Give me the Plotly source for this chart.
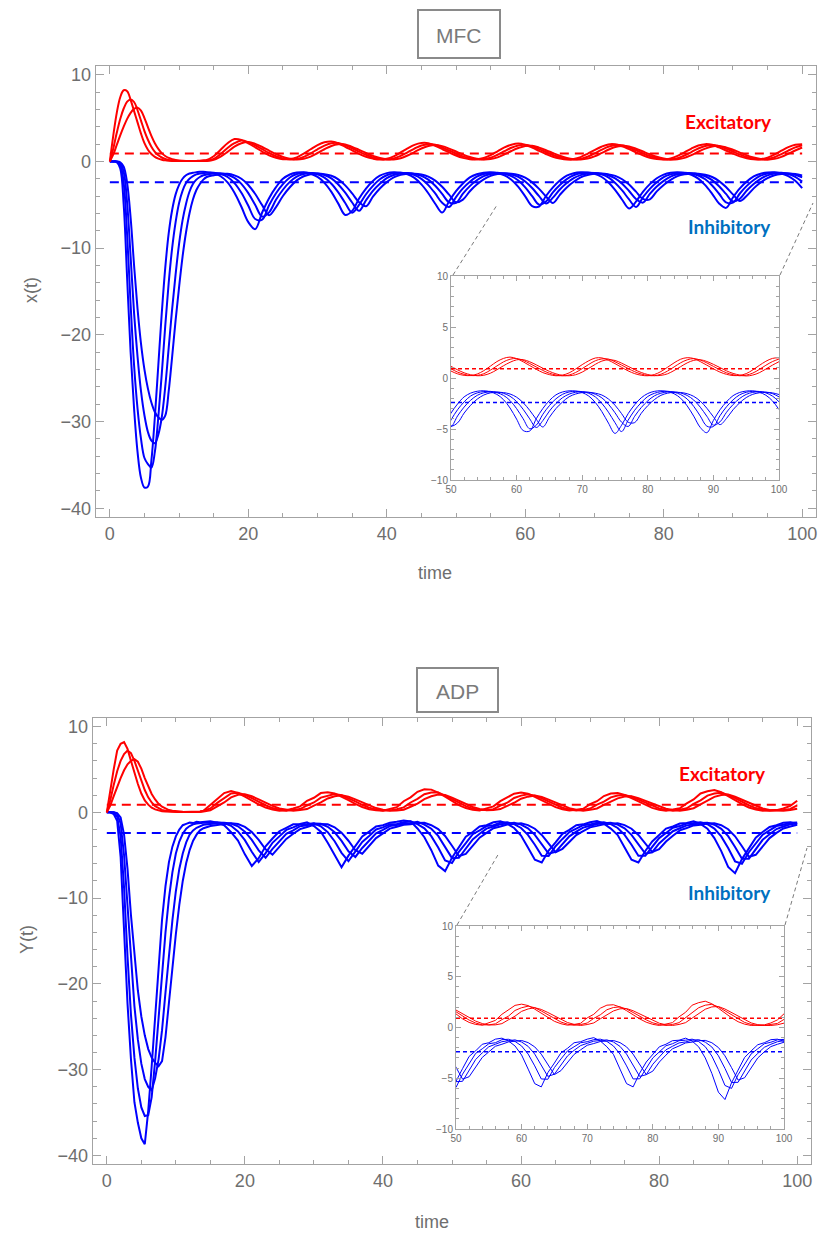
import plotly.graph_objects as go

# ---------------- time grid (dense during the transient) ----------------
T_EARLY = [i * 0.5 for i in range(29)]          # 0 .. 14 step 0.5
T_LATE = list(range(15, 101))                   # 15 .. 100
T = T_EARLY + T_LATE

X_TICKS_MAIN = [0, 20, 40, 60, 80, 100]
Y_TICKS_MAIN = [-40, -30, -20, -10, 0, 10]
E_LEVEL = 0.9      # excitatory fixed point (dashed red)
I_LEVEL = -2.4     # inhibitory fixed point (dashed blue)

# ---------------- MFC panel ----------------
MFC_R1_early = [0, 3.0, 5.6, 7.4, 8.2, 8.1, 7.1, 5.8, 4.5, 3.2, 2.1, 1.35, 0.85, 0.52, 0.32, 0.2, 0.12, 0.08, 0.06, 0.05,
                0.04, 0.04, 0.04, 0.04, 0.04, 0.06, 0.08, 0.12, 0.18]
MFC_R1_late = [0.60, 1.35, 2.10, 2.58, 2.48, 2.08, 1.62, 1.14, 0.70, 0.42,
               0.25, 0.27, 0.47, 0.89, 1.40, 1.88, 2.21, 2.29, 2.07, 1.69,
               1.27, 0.86, 0.53, 0.32, 0.21, 0.31, 0.59, 1.03, 1.50, 1.91,
               2.12, 2.10, 1.80, 1.43, 1.04, 0.68, 0.41, 0.26, 0.24, 0.39,
               0.72, 1.16, 1.61, 1.92, 2.05, 1.90, 1.59, 1.22, 0.85, 0.53,
               0.33, 0.22, 0.28, 0.50, 0.88, 1.31, 1.69, 1.96, 1.97, 1.74,
               1.41, 1.05, 0.70, 0.43, 0.27, 0.22, 0.34, 0.63, 1.05, 1.48,
               1.84, 1.99, 1.91, 1.61, 1.26, 0.90, 0.58, 0.36, 0.24, 0.26,
               0.43, 0.79, 1.23, 1.64, 1.92, 1.99]
MFC_R2_early = [0, 1.5, 3.3, 4.9, 6.1, 6.9, 7.15, 6.85, 5.9, 4.7, 3.5, 2.5, 1.7, 1.1, 0.7, 0.45, 0.28, 0.17, 0.11, 0.08,
                0.06, 0.05, 0.04, 0.04, 0.04, 0.04, 0.04, 0.06, 0.08]
MFC_R2_late = [0.30, 0.85, 1.55, 2.10, 2.40, 2.22, 1.85, 1.41, 0.97, 0.60,
               0.35, 0.22, 0.29, 0.52, 0.93, 1.40, 1.82, 2.10, 2.12, 1.87,
               1.51, 1.12, 0.75, 0.45, 0.28, 0.22, 0.34, 0.63, 1.05, 1.48,
               1.84, 1.99, 1.91, 1.61, 1.26, 0.90, 0.58, 0.36, 0.24, 0.26,
               0.42, 0.77, 1.18, 1.58, 1.84, 1.91, 1.73, 1.42, 1.08, 0.74,
               0.47, 0.29, 0.21, 0.29, 0.54, 0.92, 1.33, 1.69, 1.87, 1.86,
               1.59, 1.27, 0.93, 0.62, 0.39, 0.25, 0.23, 0.37, 0.68, 1.08,
               1.49, 1.78, 1.90, 1.76, 1.48, 1.14, 0.80, 0.51, 0.32, 0.22,
               0.28, 0.48, 0.84, 1.25, 1.61, 1.86]
MFC_R3_early = [0, 0.8, 1.9, 3.0, 4.0, 4.9, 5.6, 6.05, 6.2, 5.85, 5.0, 3.95, 2.95, 2.1, 1.45, 0.95, 0.62, 0.4, 0.26, 0.17,
                0.11, 0.08, 0.06, 0.05, 0.04, 0.04, 0.04, 0.04, 0.05]
MFC_R3_late = [0.18, 0.55, 1.10, 1.70, 2.10, 2.24, 2.02, 1.66, 1.25, 0.85,
               0.52, 0.31, 0.21, 0.30, 0.56, 0.97, 1.40, 1.78, 1.97, 1.96,
               1.68, 1.33, 0.97, 0.64, 0.40, 0.25, 0.23, 0.37, 0.68, 1.08,
               1.49, 1.78, 1.90, 1.76, 1.48, 1.14, 0.80, 0.51, 0.32, 0.22,
               0.27, 0.47, 0.81, 1.20, 1.54, 1.78, 1.80, 1.59, 1.29, 0.96,
               0.65, 0.41, 0.26, 0.22, 0.32, 0.58, 0.95, 1.34, 1.66, 1.79,
               1.72, 1.46, 1.14, 0.82, 0.54, 0.34, 0.23, 0.26, 0.41, 0.73,
               1.11, 1.48, 1.73, 1.79, 1.62, 1.34, 1.02, 0.70, 0.45, 0.29,
               0.20, 0.29, 0.52, 0.88, 1.26, 1.60]

MFC_B1_early = [0, 0.0, -0.1, -0.8, -5.0, -13.5, -22.0, -28.5, -33.5, -36.5, -37.6, -37.5, -34.5, -29.5, -23.5, -17.5,
                -12.3, -8.3, -5.6, -3.8, -2.7, -2.0, -1.6, -1.4, -1.3, -1.25, -1.2, -1.2, -1.25]
MFC_B1_late = [-1.38, -1.71, -2.42, -3.61, -5.23, -7.00, -7.81, -5.89, -4.24, -2.97,
               -2.01, -1.51, -1.29, -1.26, -1.43, -1.79, -2.47, -3.52, -4.87, -6.17,
               -5.70, -4.28, -3.13, -2.25, -1.65, -1.35, -1.25, -1.30, -1.48, -1.90,
               -2.65, -3.67, -4.88, -5.90, -4.60, -3.44, -2.55, -1.85, -1.48, -1.30,
               -1.25, -1.37, -1.61, -2.12, -2.94, -4.03, -5.15, -5.20, -3.99, -2.99,
               -2.21, -1.65, -1.37, -1.26, -1.28, -1.43, -1.77, -2.40, -3.30, -4.42,
               -5.43, -4.63, -3.50, -2.62, -1.94, -1.52, -1.31, -1.25, -1.33, -1.54,
               -1.98, -2.73, -3.74, -4.85, -5.36, -4.16, -3.12, -2.33, -1.73, -1.42,
               -1.28, -1.26, -1.40, -1.69, -2.24, -3.09]
MFC_B2_early = [0, 0.0, -0.05, -0.4, -2.5, -8.5, -16.5, -23.5, -28.5, -32.0, -34.2, -34.9, -35.3, -33.5, -29.5, -24.5,
                -19.0, -14.0, -10.0, -7.0, -4.8, -3.4, -2.5, -2.0, -1.7, -1.5, -1.4, -1.35, -1.3]
MFC_B2_late = [-1.30, -1.46, -1.80, -2.50, -3.62, -5.11, -6.64, -6.72, -5.06, -3.68,
               -2.62, -1.85, -1.46, -1.31, -1.33, -1.50, -1.88, -2.57, -3.57, -4.79,
               -5.91, -5.02, -3.79, -2.82, -2.06, -1.60, -1.37, -1.30, -1.38, -1.58,
               -2.01, -2.73, -3.70, -4.78, -5.26, -4.11, -3.11, -2.34, -1.76, -1.46,
               -1.33, -1.31, -1.44, -1.70, -2.21, -3.00, -4.00, -4.98, -4.63, -3.56,
               -2.71, -2.04, -1.60, -1.37, -1.30, -1.34, -1.50, -1.85, -2.49, -3.35,
               -4.38, -5.25, -4.14, -3.16, -2.41, -1.81, -1.50, -1.34, -1.30, -1.40,
               -1.62, -2.06, -2.78, -3.73, -4.72, -4.76, -3.70, -2.82, -2.14, -1.65,
               -1.40, -1.31, -1.32, -1.46, -1.77, -2.33]
MFC_B3_early = [0, 0.0, 0.0, -0.2, -1.2, -4.8, -11.0, -17.5, -22.5, -26.5, -29.3, -31.2, -32.2, -32.5, -31.5, -29.5,
                -26.0, -21.5, -17.0, -13.0, -9.5, -6.8, -4.9, -3.5, -2.6, -2.1, -1.8, -1.6, -1.5]
MFC_B3_late = [-1.40, -1.36, -1.54, -1.90, -2.59, -3.66, -5.03, -6.36, -5.88, -4.43,
               -3.27, -2.36, -1.75, -1.45, -1.35, -1.39, -1.57, -1.96, -2.66, -3.61,
               -4.74, -5.70, -4.48, -3.39, -2.57, -1.92, -1.57, -1.39, -1.35, -1.45,
               -1.67, -2.10, -2.81, -3.75, -4.72, -4.77, -3.72, -2.85, -2.18, -1.70,
               -1.45, -1.36, -1.37, -1.50, -1.79, -2.31, -3.07, -4.01, -4.85, -4.18,
               -3.24, -2.50, -1.93, -1.58, -1.40, -1.35, -1.41, -1.59, -1.95, -2.57,
               -3.41, -4.33, -4.75, -3.75, -2.90, -2.24, -1.75, -1.49, -1.37, -1.36,
               -1.47, -1.71, -2.16, -2.86, -3.75, -4.62, -4.30, -3.36, -2.60, -2.01,
               -1.61, -1.41, -1.35, -1.39, -1.53, -1.85]
MFC_B4_early = [0, 0.0, 0.0, -0.1, -0.6, -2.5, -6.5, -12.0, -17.0, -21.0, -24.0, -26.2, -27.8, -28.9, -29.5, -29.8,
                -29.3, -26.5, -22.5, -18.3, -14.5, -11.0, -8.2, -6.0, -4.4, -3.3, -2.6, -2.1, -1.8]
MFC_B4_late = [-1.60, -1.47, -1.43, -1.61, -2.00, -2.72, -3.76, -5.04, -6.20, -5.28,
               -3.99, -2.98, -2.19, -1.71, -1.47, -1.40, -1.47, -1.66, -2.07, -2.76,
               -3.69, -4.71, -5.18, -4.07, -3.12, -2.39, -1.84, -1.55, -1.42, -1.41,
               -1.52, -1.76, -2.22, -2.93, -3.83, -4.71, -4.40, -3.44, -2.67, -2.07,
               -1.67, -1.46, -1.40, -1.43, -1.57, -1.88, -2.42, -3.17, -4.05, -4.80,
               -3.85, -3.00, -2.35, -1.84, -1.57, -1.43, -1.40, -1.49, -1.67, -2.06,
               -2.67, -3.49, -4.33, -4.37, -3.46, -2.71, -2.12, -1.70, -1.49, -1.41,
               -1.42, -1.54, -1.80, -2.27, -2.96, -3.80, -4.57, -3.96, -3.11, -2.44,
               -1.92, -1.60, -1.45, -1.40, -1.46, -1.62]

# ---------------- ADP panel ----------------
ADP_R1_early = [0, 2.6, 5.0, 7.2, 8.0, 8.2, 7.4, 6.0, 4.6, 3.3, 2.2, 1.4, 0.9, 0.55, 0.34, 0.21, 0.13, 0.09, 0.06, 0.05,
                0.04, 0.04, 0.04, 0.04, 0.04, 0.05, 0.06, 0.10, 0.18]
ADP_R1_late = [0.85, 1.50, 2.25, 2.49, 2.25, 1.83, 1.37, 0.92, 0.56, 0.33,
               0.20, 0.25, 0.45, 0.70, 1.35, 1.70, 2.25, 2.35, 2.21, 1.85,
               1.43, 0.99, 0.62, 0.37, 0.23, 0.20, 0.38, 0.60, 1.30, 1.75,
               2.40, 2.70, 2.65, 2.30, 1.83, 1.33, 0.85, 0.50, 0.30, 0.23,
               0.45, 0.70, 1.30, 1.70, 2.18, 2.30, 2.16, 1.81, 1.40, 0.98,
               0.61, 0.37, 0.23, 0.30, 0.42, 0.95, 1.30, 1.90, 2.20, 2.24,
               2.02, 1.66, 1.25, 0.85, 0.52, 0.31, 0.20, 0.33, 0.48, 1.05,
               1.50, 2.20, 2.45, 2.59, 2.34, 1.90, 1.42, 0.96, 0.57, 0.33,
               0.20, 0.20, 0.26, 0.45, 0.75, 1.35]
ADP_R2_early = [0, 1.4, 3.2, 4.8, 6.0, 6.8, 7.2, 6.9, 6.0, 4.8, 3.6, 2.6, 1.75, 1.15, 0.72, 0.46, 0.29, 0.18, 0.12, 0.08,
                0.06, 0.05, 0.04, 0.04, 0.04, 0.04, 0.05, 0.08, 0.15]
ADP_R2_late = [0.45, 1.10, 1.65, 2.20, 2.28, 2.03, 1.65, 1.23, 0.83, 0.50,
               0.30, 0.20, 0.27, 0.38, 0.80, 1.15, 1.72, 1.98, 2.15, 1.99,
               1.66, 1.27, 0.88, 0.55, 0.34, 0.22, 0.23, 0.36, 0.58, 1.15,
               1.58, 2.12, 2.32, 2.30, 1.96, 1.55, 1.12, 0.73, 0.44, 0.26,
               0.26, 0.36, 0.78, 1.12, 1.68, 1.95, 2.10, 1.95, 1.63, 1.25,
               0.87, 0.54, 0.33, 0.22, 0.29, 0.44, 0.90, 1.25, 1.75, 1.97,
               2.03, 1.82, 1.48, 1.11, 0.75, 0.46, 0.29, 0.20, 0.30, 0.48,
               0.98, 1.40, 1.95, 2.20, 2.28, 2.03, 1.65, 1.23, 0.83, 0.50,
               0.30, 0.20, 0.21, 0.27, 0.40, 0.80]
ADP_R3_early = [0, 0.8, 1.9, 3.0, 4.0, 4.9, 5.6, 6.0, 6.2, 5.9, 5.1, 4.0, 3.0, 2.15, 1.5, 1.0, 0.65, 0.42, 0.27, 0.18,
                0.12, 0.08, 0.06, 0.05, 0.04, 0.04, 0.04, 0.06, 0.10]
ADP_R3_late = [0.25, 0.70, 1.15, 1.75, 2.05, 2.12, 1.87, 1.51, 1.12, 0.75,
               0.45, 0.28, 0.20, 0.27, 0.38, 0.78, 1.15, 1.62, 1.88, 2.00,
               1.83, 1.51, 1.15, 0.80, 0.50, 0.31, 0.20, 0.22, 0.30, 0.65,
               1.02, 1.55, 1.88, 2.08, 2.03, 1.72, 1.36, 0.98, 0.63, 0.39,
               0.25, 0.26, 0.38, 0.76, 1.12, 1.59, 1.83, 1.95, 1.78, 1.48,
               1.13, 0.78, 0.49, 0.31, 0.20, 0.29, 0.45, 0.86, 1.22, 1.63,
               1.84, 1.87, 1.65, 1.34, 1.00, 0.68, 0.42, 0.27, 0.20, 0.30,
               0.48, 0.93, 1.35, 1.80, 2.03, 2.07, 1.82, 1.47, 1.09, 0.73,
               0.45, 0.28, 0.20, 0.20, 0.27, 0.43]

ADP_B1_early = [0, 0.0, -0.2, -1.0, -5.2, -13.8, -22.3, -28.8, -33.8, -36.2, -38.0, -38.7, -34.8, -29.6, -23.8, -17.6,
                -12.5, -8.6, -5.8, -4.0, -2.8, -2.0, -1.5, -1.35, -1.2, -1.25, -1.1, -1.15, -1.1]
ADP_B1_late = [-1.05, -1.20, -1.50, -2.30, -3.30, -4.90, -6.25, -5.35, -3.95, -3.05,
               -2.20, -1.80, -1.40, -1.35, -1.15, -1.60, -2.25, -3.55, -4.95, -6.40,
               -5.05, -3.95, -2.80, -2.25, -1.65, -1.50, -1.20, -1.10, -0.95, -1.05,
               -1.88, -2.90, -4.41, -6.21, -6.85, -5.30, -4.05, -2.85, -2.30, -1.65,
               -1.50, -1.15, -1.05, -1.33, -1.82, -2.71, -4.10, -5.53, -5.85, -4.45,
               -3.50, -2.50, -2.05, -1.50, -1.40, -1.15, -1.00, -1.33, -1.90, -2.65,
               -4.10, -5.53, -5.85, -4.50, -3.40, -2.65, -1.90, -1.65, -1.30, -1.25,
               -1.05, -1.34, -1.91, -3.00, -4.52, -6.37, -7.10, -5.45, -4.15, -2.95,
               -2.30, -1.70, -1.50, -1.20, -1.15, -1.37]
ADP_B2_early = [0, 0.0, -0.1, -0.5, -2.8, -8.8, -16.8, -23.6, -28.6, -32.2, -34.4, -35.4, -35.3, -33.2, -29.0, -24.0,
                -18.8, -14.0, -10.0, -7.0, -4.8, -3.4, -2.5, -1.9, -1.6, -1.4, -1.3, -1.25, -1.2]
ADP_B2_late = [-1.20, -1.15, -1.24, -1.57, -2.22, -3.24, -4.59, -5.80, -4.75, -3.55,
               -2.80, -2.05, -1.75, -1.40, -1.35, -1.27, -1.62, -2.31, -3.37, -4.72,
               -5.69, -4.60, -3.45, -2.75, -2.00, -1.75, -1.40, -1.35, -1.15, -1.05,
               -1.38, -1.87, -2.78, -4.10, -5.62, -5.90, -4.60, -3.60, -2.55, -2.10,
               -1.60, -1.50, -1.20, -1.16, -1.37, -1.82, -2.62, -3.78, -5.07, -5.10,
               -3.95, -3.10, -2.30, -1.90, -1.50, -1.40, -1.20, -1.15, -1.37, -1.82,
               -2.62, -3.78, -5.07, -5.05, -4.05, -3.00, -2.40, -1.80, -1.60, -1.30,
               -1.25, -1.15, -1.39, -1.89, -2.81, -4.16, -5.71, -6.00, -4.65, -3.60,
               -2.60, -2.10, -1.60, -1.45, -1.22, -1.17]
ADP_B3_early = [0, 0.0, 0.0, -0.2, -1.3, -5.0, -11.2, -17.6, -22.6, -26.5, -29.3, -31.1, -32.0, -32.4, -31.0, -28.8,
                -25.4, -21.0, -16.5, -12.6, -9.2, -6.6, -4.8, -3.5, -2.6, -2.1, -1.8, -1.6, -1.45]
ADP_B3_late = [-1.35, -1.25, -1.20, -1.31, -1.63, -2.25, -3.21, -4.43, -5.30, -4.25,
               -3.40, -2.50, -2.10, -1.62, -1.50, -1.30, -1.33, -1.68, -2.33, -3.33,
               -4.54, -5.20, -4.15, -3.30, -2.45, -2.05, -1.60, -1.48, -1.30, -1.23,
               -1.10, -1.44, -1.91, -2.75, -3.97, -5.34, -5.30, -4.25, -3.15, -2.50,
               -1.90, -1.65, -1.40, -1.30, -1.22, -1.43, -1.86, -2.62, -3.68, -4.82,
               -4.60, -3.70, -2.80, -2.25, -1.78, -1.56, -1.35, -1.28, -1.22, -1.43,
               -1.86, -2.62, -3.68, -4.82, -4.65, -3.62, -2.90, -2.20, -1.85, -1.52,
               -1.42, -1.25, -1.20, -1.44, -1.92, -2.78, -4.03, -5.42, -5.40, -4.30,
               -3.20, -2.55, -1.95, -1.65, -1.40, -1.30]
ADP_B4_early = [0, 0.0, 0.0, -0.1, -0.6, -2.6, -6.6, -12.0, -16.8, -20.8, -23.8, -26.0, -27.6, -28.6, -29.2, -29.6,
                -29.0, -26.2, -22.2, -18.0, -14.2, -10.8, -8.0, -5.9, -4.4, -3.3, -2.6, -2.1, -1.85]
ADP_B4_late = [-1.60, -1.45, -1.35, -1.28, -1.37, -1.69, -2.29, -3.20, -4.31, -4.92,
               -4.05, -3.10, -2.50, -1.95, -1.70, -1.45, -1.36, -1.40, -1.74, -2.37,
               -3.31, -4.42, -4.82, -3.95, -3.00, -2.45, -1.90, -1.68, -1.45, -1.38,
               -1.25, -1.22, -1.50, -1.96, -2.75, -3.89, -5.09, -4.85, -3.92, -2.95,
               -2.40, -1.85, -1.65, -1.42, -1.35, -1.28, -1.49, -1.91, -2.63, -3.62,
               -4.64, -4.25, -3.48, -2.65, -2.20, -1.75, -1.58, -1.38, -1.33, -1.28,
               -1.49, -1.91, -2.63, -3.62, -4.64, -4.30, -3.40, -2.72, -2.10, -1.82,
               -1.52, -1.44, -1.30, -1.27, -1.50, -1.97, -2.79, -3.95, -5.18, -4.95,
               -3.98, -3.00, -2.40, -1.88, -1.65, -1.45]

MFC_RED = [MFC_R1_early + MFC_R1_late, MFC_R2_early + MFC_R2_late, MFC_R3_early + MFC_R3_late]
MFC_BLUE = [MFC_B1_early + MFC_B1_late, MFC_B2_early + MFC_B2_late,
            MFC_B3_early + MFC_B3_late, MFC_B4_early + MFC_B4_late]
ADP_RED = [ADP_R1_early + ADP_R1_late, ADP_R2_early + ADP_R2_late, ADP_R3_early + ADP_R3_late]
ADP_BLUE = [ADP_B1_early + ADP_B1_late, ADP_B2_early + ADP_B2_late,
            ADP_B3_early + ADP_B3_late, ADP_B4_early + ADP_B4_late]

# ---------------- figure geometry (pixels -> paper) ----------------
W, H = 827, 1236
def px(x):
    return x / W
def py(y):
    return 1 - y / H

RED = '#ff0000'
BLUE = '#0000ff'
AX = '#a3a3a3'
TXT = '#6e6e6e'
FONT = 'Liberation Sans'

fig = go.Figure()

def add_panel(reds, blues, xm, ym, xi, yi, shape):
    for ys in blues:
        fig.add_trace(go.Scatter(x=T, y=ys, mode='lines', xaxis=xm, yaxis=ym,
                                 line=dict(color=BLUE, width=2, shape=shape),
                                 hoverinfo='skip', showlegend=False))
    for ys in reds:
        fig.add_trace(go.Scatter(x=T, y=ys, mode='lines', xaxis=xm, yaxis=ym,
                                 line=dict(color=RED, width=2, shape=shape),
                                 hoverinfo='skip', showlegend=False))
    for lvl, col in ((E_LEVEL, RED), (I_LEVEL, BLUE)):
        fig.add_trace(go.Scatter(x=[0, 100], y=[lvl, lvl], mode='lines', xaxis=xm, yaxis=ym,
                                 line=dict(color=col, width=2, dash='9px,6px'),
                                 hoverinfo='skip', showlegend=False))
    for ys in blues:
        fig.add_trace(go.Scatter(x=T, y=ys, mode='lines', xaxis=xi, yaxis=yi,
                                 line=dict(color=BLUE, width=1, shape=shape),
                                 hoverinfo='skip', showlegend=False))
    for ys in reds:
        fig.add_trace(go.Scatter(x=T, y=ys, mode='lines', xaxis=xi, yaxis=yi,
                                 line=dict(color=RED, width=1, shape=shape),
                                 hoverinfo='skip', showlegend=False))
    for lvl, col in ((E_LEVEL, RED), (I_LEVEL, BLUE)):
        fig.add_trace(go.Scatter(x=[50, 100], y=[lvl, lvl], mode='lines', xaxis=xi, yaxis=yi,
                                 line=dict(color=col, width=1.5, dash='4px,3px'),
                                 hoverinfo='skip', showlegend=False))

add_panel(MFC_RED, MFC_BLUE, 'x', 'y', 'x2', 'y2', 'spline')
add_panel(ADP_RED, ADP_BLUE, 'x3', 'y3', 'x4', 'y4', 'linear')

COMMON = dict(showline=True, linecolor=AX, mirror='ticks', showgrid=False, zeroline=False,
              automargin=False, tickcolor=AX, tickwidth=1, ticks='inside', fixedrange=True)

def main_x(dom, anchor):
    return dict(COMMON, domain=dom, anchor=anchor, range=[-2, 102], tickmode='array', tickvals=X_TICKS_MAIN,
                ticklen=8, linewidth=1.3,
                tickfont=dict(family=FONT, size=18, color=TXT),
                minor=dict(tickvals=[v for v in range(0, 101, 5) if v % 20], ticks='inside',
                           ticklen=4, tickcolor=AX, tickwidth=1))

def main_y(dom, anchor):
    return dict(COMMON, domain=dom, anchor=anchor, range=[-41, 11], tickmode='array', tickvals=Y_TICKS_MAIN,
                ticklen=8, linewidth=1.3,
                tickfont=dict(family=FONT, size=18, color=TXT),
                minor=dict(tickvals=[v for v in range(-40, 11, 2) if v % 10], ticks='inside',
                           ticklen=4, tickcolor=AX, tickwidth=1))

def inset_x(dom, anchor):
    return dict(COMMON, domain=dom, anchor=anchor, range=[50, 100], tickmode='linear', tick0=50, dtick=10,
                ticklen=5, linewidth=1,
                tickfont=dict(family=FONT, size=10, color=TXT),
                minor=dict(dtick=2, ticks='inside', ticklen=3, tickcolor=AX, tickwidth=1))

def inset_y(dom, anchor):
    return dict(COMMON, domain=dom, anchor=anchor, range=[-10, 10], tickmode='linear', tick0=0, dtick=5,
                ticklen=5, linewidth=1,
                tickfont=dict(family=FONT, size=10, color=TXT),
                minor=dict(dtick=1, ticks='inside', ticklen=3, tickcolor=AX, tickwidth=1))

fig.update_layout(
    template='none',
    width=W, height=H, autosize=False,
    margin=dict(l=0, r=0, t=0, b=0, pad=0),
    paper_bgcolor='white', plot_bgcolor='white',
    showlegend=False, hovermode=False,
    xaxis=main_x([px(96), px(816)], 'y'),
    yaxis=main_y([py(517), py(66)], 'x'),
    xaxis2=inset_x([px(451), px(779)], 'y2'),
    yaxis2=inset_y([py(480), py(276)], 'x2'),
    xaxis3=main_x([px(93), px(811)], 'y3'),
    yaxis3=main_y([py(1164), py(718)], 'x3'),
    xaxis4=inset_x([px(456), px(784)], 'y4'),
    yaxis4=inset_y([py(1129), py(926)], 'x4'),
)

shapes = []
# title boxes
for (x0, y0, x1, y1) in ((418, 10, 500, 58), (417, 668, 498, 712)):
    shapes.append(dict(type='rect', xref='paper', yref='paper', x0=px(x0), x1=px(x1), y0=py(y1), y1=py(y0),
                       line=dict(color='#8a8a8a', width=2), fillcolor='rgba(0,0,0,0)'))
# dashed connector lines to the insets
for (x0, y0, x1, y1) in ((453, 275, 497, 205), (780, 275, 813, 203),
                         (457, 925, 499, 853), (785, 925, 807, 848)):
    shapes.append(dict(type='line', xref='paper', yref='paper', x0=px(x0), y0=py(y0), x1=px(x1), y1=py(y1),
                       line=dict(color='#7a7a7a', width=1, dash='4px,3px')))
fig.update_layout(shapes=shapes)

ann = []
def text(x, y, s, size, color, angle=0, family=FONT):
    ann.append(dict(x=px(x), y=py(y), xref='paper', yref='paper', text=s, showarrow=False,
                    xanchor='center', yanchor='middle', textangle=angle,
                    font=dict(family=family, size=size, color=color)))

text(459, 35, 'MFC', 21, '#7a7a7a')
text(458, 691, 'ADP', 21, '#7a7a7a')
text(728, 122, '<b>Excitatory</b>', 19, RED, family='Lato')
text(729, 227, '<b>Inhibitory</b>', 19, '#0070c0', family='Lato')
text(722, 773, '<b>Excitatory</b>', 19, RED, family='Lato')
text(729, 892, '<b>Inhibitory</b>', 19, '#0070c0', family='Lato')
text(31, 290, 'x(t)', 18, TXT, angle=-90)
text(435, 573, 'time', 18, TXT)
text(27, 940, 'Y(t)', 18, TXT, angle=-90)
text(432, 1222, 'time', 18, TXT)
fig.update_layout(annotations=ann)

# remove the browser's default 8px body margin so the 827x1236 figure fills the window exactly
fig.write_html('out.html',
               config={'displayModeBar': False, 'staticPlot': True},
               post_script="document.body.style.margin='0px';document.body.style.overflow='hidden';")
